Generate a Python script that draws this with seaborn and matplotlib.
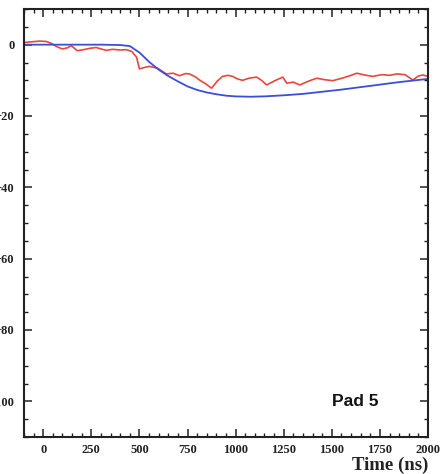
import numpy as np
import pandas as pd
import matplotlib
matplotlib.use("Agg")
import matplotlib.pyplot as plt
import seaborn as sns
from matplotlib.ticker import MultipleLocator

# Data
sim_time = [-100, 0, 100, 200, 300, 400, 450, 500, 550, 600, 650, 700, 750, 800, 850,
            900, 950, 1000, 1075, 1150, 1250, 1350, 1450, 1550, 1650, 1750, 1850, 1950, 2000]
sim_signal = [0.0, 0.0, 0.0, 0.0, 0.0, -0.1, -0.4, -2.2, -4.8, -7.0, -8.8, -10.3, -11.7, -12.7, -13.4,
              -13.9, -14.3, -14.5, -14.6, -14.5, -14.2, -13.8, -13.2, -12.6, -11.9, -11.2, -10.5, -9.9, -9.6]

meas_time = [-100, -60, -20, 15, 45, 68, 99, 125, 146, 177, 210, 245, 276, 300, 328, 360, 400,
             432, 460, 485, 500, 525, 552, 594, 640, 675, 708, 740, 760, 790, 812, 845, 875,
             905, 932, 960, 984, 1010, 1036, 1070, 1109, 1135, 1161, 1200, 1245, 1266, 1300,
             1333, 1380, 1422, 1460, 1505, 1560, 1600, 1630, 1670, 1713, 1760, 1800, 1838,
             1880, 1921, 1950, 1973, 2000]
meas_signal = [0.6, 0.8, 1.0, 0.9, 0.3, -0.5, -1.2, -0.9, -0.3, -1.7, -1.4, -1.0, -0.8, -1.2, -1.6,
               -1.3, -1.5, -1.4, -1.9, -3.5, -6.8, -6.4, -6.1, -6.6, -8.2, -8.0, -8.7, -8.1, -8.2,
               -9.0, -9.9, -11.0, -12.2, -10.2, -8.9, -8.6, -8.9, -9.6, -10.0, -9.4, -9.1, -10.0,
               -11.3, -10.2, -9.1, -10.8, -10.5, -11.3, -10.2, -9.4, -9.8, -10.1, -9.3, -8.6,
               -8.0, -8.5, -8.9, -8.4, -8.6, -8.2, -8.4, -9.9, -8.8, -8.5, -8.9]

sim_df = pd.DataFrame({"Time": sim_time, "Signal": sim_signal})
meas_df = pd.DataFrame({"Time": meas_time, "Signal": meas_signal})

sns.set_theme(style="white")
plt.rcParams["font.family"] = ["Liberation Serif", "DejaVu Serif"]
plt.rcParams["font.weight"] = "bold"

fig = plt.figure(figsize=(4.41, 4.74), dpi=100)
ax = fig.add_axes([24 / 441, 1 - 437 / 474, 404 / 441, 428 / 474])

sns.lineplot(data=meas_df, x="Time", y="Signal", ax=ax, color="#e8483c", linewidth=1.2)
sns.lineplot(data=sim_df, x="Time", y="Signal", ax=ax, color="#3b4fd6", linewidth=1.3)

ax.set_xlim(-100, 2000)
ax.set_ylim(-110, 10)
ax.xaxis.set_major_locator(MultipleLocator(250))
ax.xaxis.set_minor_locator(MultipleLocator(50))
ax.yaxis.set_major_locator(MultipleLocator(20))
ax.yaxis.set_minor_locator(MultipleLocator(5))
ax.tick_params(which="both", direction="in", top=True, right=True, bottom=True, left=True,
               labeltop=False, labelright=False, colors="#222222", labelsize=9)
ax.tick_params(which="major", length=6, width=1.1)
ax.tick_params(which="minor", length=3, width=1.0)
ax.tick_params(axis="y", which="major", pad=7)
ax.tick_params(axis="x", which="major", pad=5)
for lbl in ax.get_xticklabels() + ax.get_yticklabels():
    lbl.set_fontweight("bold")
for s in ax.spines.values():
    s.set_linewidth(1.5)
    s.set_color("#222222")
ax.set_xlabel("")
ax.set_ylabel("")

fig.text(428 / 441, 1 - 465 / 474, "Time (ns)", ha="right", va="center",
         fontsize=13.5, fontweight="bold", color="#222222")
ax.text((355 - 24) / 404, (437 - 401) / 428, "Pad 5", transform=ax.transAxes,
        ha="center", va="center", fontsize=12.5, fontweight="bold",
        family=["Liberation Sans", "DejaVu Sans"], color="#111111")

fig.savefig("out.png", dpi=100)
